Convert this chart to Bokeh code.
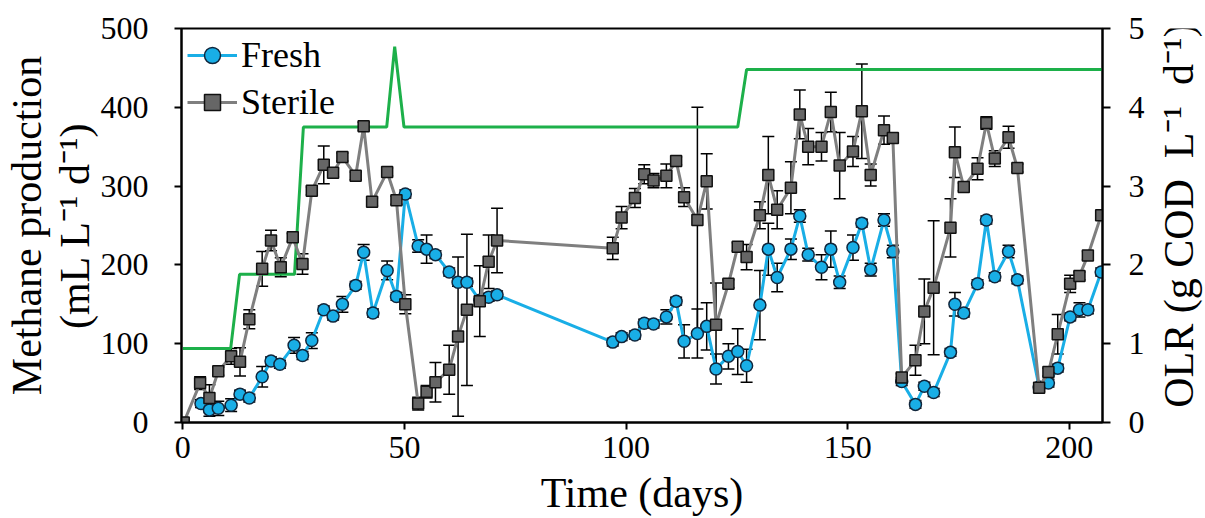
import math
from bokeh.plotting import figure
from bokeh.layouts import row
from bokeh.models import (Range1d, LinearAxis, Whisker, TeeHead, ColumnDataSource,
                          Legend, LegendItem, Title, FixedTicker)
from bokeh.core.properties import value
from bokeh.embed import file_html
from bokeh.resources import INLINE

# ---------------- data ----------------
sterile_days = [0.2, 3.9, 6.0, 8.0, 10.9, 12.9, 15.0, 17.9, 19.9, 22.1, 24.8, 27.0, 29.1, 31.8,
                33.9, 36.0, 39.0, 40.8, 42.7, 46.1, 48.2, 50.2, 53.1, 55.0, 57.0, 60.1, 62.1,
                64.1, 67.0, 69.0, 70.9, 97.0, 99.0, 102.0, 104.1, 106.2, 109.1, 111.3, 113.1,
                116.1, 118.2, 120.3, 123.1, 125.2, 127.2, 130.2, 132.1, 134.1, 137.2, 139.2,
                141.1, 144.1, 146.2, 148.2, 151.2, 153.2, 155.2, 158.2, 160.2, 162.2, 165.3,
                167.3, 169.4, 173.2, 174.2, 176.2, 179.3, 181.3, 183.2, 186.3, 188.3, 193.2,
                195.3, 197.4, 200.2, 202.3, 204.2, 207.2]
sterile_vals = [0, 50, 31, 65, 84, 77, 131, 195, 231, 197, 235, 201, 294, 327,
                317, 337, 313, 376, 280, 318, 282, 150, 24, 39, 51, 67, 109,
                143, 154, 204, 231, 221, 260, 285, 315, 307, 313, 332, 286,
                257, 306, 124, 176, 223, 210, 263, 314, 270, 298, 391,
                350, 350, 394, 326, 344, 395, 314, 371, 361, 57, 79,
                141, 171, 247, 343, 299, 322, 380, 335, 362, 323, 44,
                64, 112, 176, 186, 212, 263]
sterile_err = [0, 8, 17, 5, 10, 18, 12, 22, 13, 12, 5, 13, 5, 24,
               5, 5, 5, 5, 5, 5, 5, 12, 8, 8, 25, 31, 101,
               96, 45, 34, 41, 14, 14, 12, 12, 9, 15, 5, 12,
               143, 35, 53, 5, 5, 16, 17, 49, 24, 33, 31,
               23, 18, 25, 42, 19, 60, 14, 18, 5, 5, 19,
               41, 85, 37, 32, 5, 14, 8, 10, 14, 5, 5,
               5, 25, 11, 5, 5, 5]

fresh_days = [4.1, 6.0, 8.0, 10.9, 12.9, 15.0, 17.9, 19.9, 21.9, 25.1, 27.0, 29.1, 31.8,
              33.9, 36.0, 39.0, 40.8, 42.9, 46.1, 48.2, 50.2, 53.1, 55.0, 57.0, 60.1, 62.1,
              64.1, 67.0, 69.0, 70.9, 97.0, 99.0, 102.0, 104.1, 106.2, 109.1, 111.3, 113.1,
              116.1, 118.2, 120.3, 123.1, 125.2, 127.2, 130.2, 132.1, 134.1, 137.2, 139.2,
              141.1, 144.1, 146.2, 148.2, 151.2, 153.2, 155.2, 158.2, 160.2, 162.2, 165.3,
              167.3, 169.4, 173.2, 174.2, 176.2, 179.3, 181.3, 183.2, 186.3, 188.3, 193.2,
              195.3, 197.4, 200.2, 202.3, 204.2, 207.2]
fresh_vals = [24, 16, 18, 22, 36, 31, 58, 78, 74, 98, 85, 104, 143,
              135, 150, 174, 216, 139, 193, 160, 290, 224, 220, 213, 191, 178,
              178, 155, 159, 162, 102, 109, 111, 126, 125, 134, 154, 103,
              113, 122, 68, 84, 90, 72, 149, 220, 184, 220, 262,
              213, 197, 220, 178, 222, 253, 194, 257, 217, 52, 23,
              46, 38, 89, 150, 139, 176, 257, 185, 217, 181, 45,
              50, 69, 134, 143, 143, 191]
fresh_err = [5, 8, 9, 8, 5, 5, 13, 5, 5, 10, 5, 10, 5,
             5, 10, 5, 10, 5, 12, 5, 5, 8, 18, 5, 5, 5,
             5, 5, 5, 5, 5, 5, 5, 5, 5, 9, 5, 21,
             31, 30, 19, 16, 29, 21, 44, 33, 18, 13, 8,
             8, 16, 23, 8, 16, 5, 8, 8, 8, 5, 5,
             5, 5, 5, 15, 5, 5, 5, 5, 8, 5, 5,
             5, 5, 5, 9, 5, 5]

olr_days = [0, 10.8, 12.8, 25.2, 27.2, 46.0, 47.8, 49.9, 125.2, 127.2, 207.5]
olr_vals = [0.94, 0.94, 1.88, 1.88, 3.75, 3.75, 4.77, 3.75, 3.75, 4.48, 4.48]

x_ticks = [0, 50, 100, 150, 200]
y_ticks = [0, 100, 200, 300, 400, 500]
olr_ticks = [0, 1, 2, 3, 4, 5]

FONT = "Liberation Serif"
BLUE = "#19AEE6"
GRAY_LINE = "#7F7F7F"
GRAY_FILL = "#666666"
GREEN = "#1DB04A"
NB = "\u00a0"
OLR_TITLE = "OLR" + NB + "(g" + NB + "COD" + NB + NB + "L\u207b\u00b9" + NB + NB + "d\u207b\u00b9)"

MAIN_W = 1155
X0, X1 = -0.3, 207.5
p = figure(width=MAIN_W, height=518, output_backend="svg", toolbar_location=None,
           x_range=Range1d(X0, X1), y_range=Range1d(0, 500),
           min_border_left=181, min_border_right=MAIN_W - 1102, min_border_top=28,
           min_border_bottom=96)
p.extra_y_ranges = {"olr": Range1d(0, 5)}
p.grid.visible = False
p.outline_line_color = "black"
p.outline_line_width = 2
p.background_fill_color = "white"
p.border_fill_color = "white"

for ax in [p.xaxis[0], p.yaxis[0]]:
    ax.axis_line_color = "black"
    ax.axis_line_width = 2
    ax.major_tick_line_color = "black"
    ax.major_tick_line_width = 2
    ax.major_tick_in = 0
    ax.major_tick_out = 7
    ax.minor_tick_line_color = None
    ax.major_label_text_font = FONT
    ax.major_label_text_font_size = "32px"
    ax.major_label_text_color = "black"
    ax.axis_label_text_font = FONT
    ax.axis_label_text_font_style = "normal"
    ax.axis_label_text_color = "black"

p.xaxis[0].ticker = FixedTicker(ticks=x_ticks)
p.xaxis[0].major_label_standoff = 7
p.xaxis[0].axis_label = "Time (days)"
p.xaxis[0].axis_label_text_font_size = "42px"
p.xaxis[0].axis_label_standoff = 9

p.yaxis[0].ticker = FixedTicker(ticks=y_ticks)
p.yaxis[0].major_label_standoff = 26

right = LinearAxis(y_range_name="olr", ticker=FixedTicker(ticks=olr_ticks))
right.axis_line_color = "black"
right.axis_line_width = 2
right.major_tick_line_color = "black"
right.major_tick_line_width = 2
right.major_tick_in = 0
right.major_tick_out = 8
right.minor_tick_line_color = None
right.major_label_text_font = FONT
right.major_label_text_font_size = "32px"
right.major_label_text_color = "black"
right.major_label_standoff = 18
p.add_layout(right, "right")

t2 = Title(text="(mL L\u207b\u00b9 d\u207b\u00b9)", align="center", text_font=FONT,
           text_font_size="42px", text_font_style="normal", text_color="black", standoff=0)
p.add_layout(t2, "left")
t1 = Title(text="Methane production", align="center", text_font=FONT,
           text_font_size="42px", text_font_style="normal", text_color="black", standoff=0)
p.add_layout(t1, "left")

# OLR line
p.line(olr_days, olr_vals, y_range_name="olr", line_color=GREEN, line_width=3)

# error bars
fs = ColumnDataSource(dict(x=fresh_days, y=fresh_vals,
                           lo=[v - e for v, e in zip(fresh_vals, fresh_err)],
                           hi=[v + e for v, e in zip(fresh_vals, fresh_err)]))
ss = ColumnDataSource(dict(x=sterile_days, y=sterile_vals,
                           lo=[v - e for v, e in zip(sterile_vals, sterile_err)],
                           hi=[v + e for v, e in zip(sterile_vals, sterile_err)]))
for src in (fs, ss):
    w = Whisker(source=src, base="x", upper="hi", lower="lo",
                line_color="black", line_width=1.5,
                upper_head=TeeHead(size=12, line_color="black", line_width=1.5),
                lower_head=TeeHead(size=12, line_color="black", line_width=1.5))
    p.add_layout(w)

fl = p.line("x", "y", source=fs, line_color=BLUE, line_width=3)
fc = p.scatter("x", "y", source=fs, marker="circle", size=12, fill_color=BLUE,
               line_color="#10263C", line_width=1.5)
sl = p.line("x", "y", source=ss, line_color=GRAY_LINE, line_width=3)
sc = p.scatter("x", "y", source=ss, marker="square", size=11, fill_color=GRAY_FILL,
               line_color="#111111", line_width=1.5)

legend = Legend(items=[LegendItem(label="Fresh", renderers=[fl, fc]),
                       LegendItem(label="Sterile", renderers=[sl, sc])],
                location="top_left", background_fill_alpha=0, border_line_alpha=0,
                label_text_font=FONT, label_text_font_size="36px", label_text_color="black",
                glyph_width=50, glyph_height=40, label_height=40, spacing=5,
                label_standoff=4, padding=4, margin=2)
p.add_layout(legend)

# narrow side panel holding the right-axis title (reads bottom to top)
SIDE_W = 1205 - MAIN_W
p2 = figure(width=SIDE_W, height=518, output_backend="svg", toolbar_location=None,
            x_range=Range1d(0, SIDE_W), y_range=Range1d(0, 518),
            x_axis_type=None, y_axis_type=None,
            min_border_left=0, min_border_right=0, min_border_top=0, min_border_bottom=0)
p2.grid.visible = False
p2.outline_line_color = None
p2.background_fill_color = "white"
p2.border_fill_color = "white"
p2.text(x=[1178 - MAIN_W], y=[518 - 246], text=[OLR_TITLE], angle=math.pi / 2,
        text_font=value(FONT), text_font_size="42px", text_color="black",
        text_align="center", text_baseline="middle")

layout = row(p, p2, spacing=0)
open("out.html", "w").write(file_html(layout, INLINE))
